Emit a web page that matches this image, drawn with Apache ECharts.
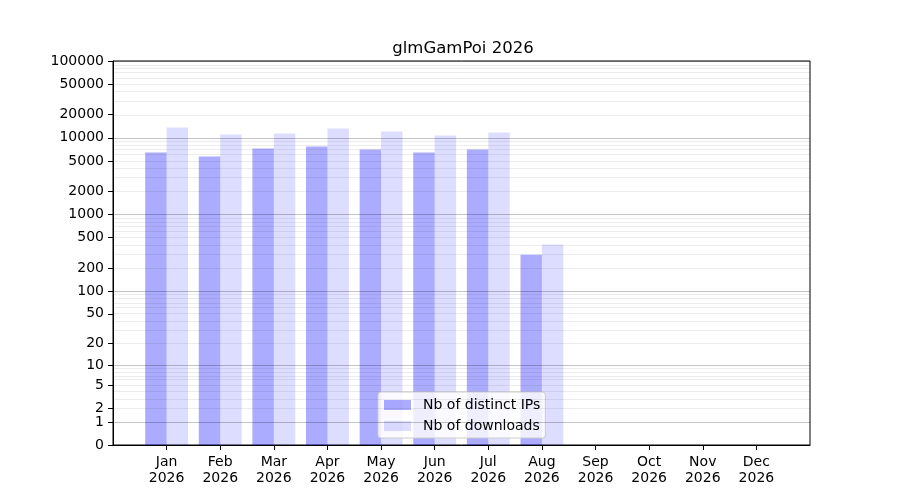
<!DOCTYPE html>
<html>
<head>
<meta charset="utf-8">
<script src="https://cdn.jsdelivr.net/npm/echarts@6/dist/echarts.min.js"></script>
<style>
  html, body { margin: 0; padding: 0; background: #fff; }
  #chart { width: 900px; height: 500px; }
</style>
</head>
<body>
<div id="chart"></div>
<script>
// values
const months = ['Jan', 'Feb', 'Mar', 'Apr', 'May', 'Jun', 'Jul', 'Aug', 'Sep', 'Oct', 'Nov', 'Dec'];
const year = '2026';
const distinctIPs = [6440, 5700, 7260, 7710, 7040, 6440, 7040, 300, 0, 0, 0, 0];
const downloads = [13630, 11050, 11390, 13230, 12090, 10720, 11730, 406, 0, 0, 0, 0];
const yTicks = [0, 1, 2, 5, 10, 20, 50, 100, 200, 500, 1000, 2000, 5000, 10000, 20000, 50000, 100000];
const majorGrid = [1, 10, 100, 1000, 10000, 100000];
const minorSteps = [2, 3, 4, 5, 6, 7, 8, 9];

// the y axis is log10(1 + v)
const tr = v => Math.log10(1 + v);
const untr = t => Math.round(Math.pow(10, t) - 1);

// one empty slot on each side, like the original xlim
const cats = [''].concat(months, ['']);
const pad = arr => [null].concat(arr.map(tr), [null]);

const minorGrid = [];
majorGrid.slice(0, -1).forEach(d => minorSteps.forEach(s => minorGrid.push(d * s)));

// translucent grid so it darkens the bars a little where it crosses them
const gridLines = majorGrid.map(v => ({ yAxis: tr(v), lineStyle: { color: 'rgba(0,0,0,0.23)', width: 1, type: 'solid' } }))
  .concat(minorGrid.map(v => ({ yAxis: tr(v), lineStyle: { color: 'rgba(0,0,0,0.075)', width: 1, type: 'solid' } })));

const font = 'DejaVu Sans';
const chart = echarts.init(document.getElementById('chart'));
chart.setOption({
  animation: false,
  textStyle: { fontFamily: font },
  title: {
    text: 'glmGamPoi ' + year,
    left: 458,
    top: 35,
    textAlign: 'center',
    textStyle: { fontFamily: font, fontSize: 16.5, fontWeight: 'normal', color: '#000' },
  },
  grid: {
    left: 113, right: 90, top: 61, bottom: 55,
    show: true, borderColor: '#000', borderWidth: 1,
  },
  legend: {
    orient: 'vertical',
    left: 378,
    top: 392,
    backgroundColor: 'rgba(255,255,255,0.8)',
    borderColor: '#cccccc',
    borderWidth: 1,
    borderRadius: 3,
    padding: [6, 5, 5, 6],
    itemWidth: 27,
    itemHeight: 10,
    itemGap: 7,
    icon: 'rect',
    textStyle: { fontFamily: font, fontSize: 14, color: '#000', padding: [0, 0, 0, 7] },
    data: ['Nb of distinct IPs', 'Nb of downloads'],
  },
  xAxis: {
    type: 'category',
    data: cats,
    boundaryGap: false,
    axisLine: { lineStyle: { color: '#000', width: 1 } },
    axisTick: { length: 5, lineStyle: { color: '#000' }, interval: (i, v) => v !== '' },
    axisLabel: {
      interval: 0,
      color: '#000',
      fontSize: 14,
      lineHeight: 16,
      margin: 9,
      formatter: v => (v === '' ? '' : v + '\n' + year),
    },
    splitLine: { show: false },
  },
  yAxis: {
    type: 'value',
    min: 0,
    max: tr(100000),
    axisLine: { show: true, lineStyle: { color: '#000', width: 1 } },
    axisTick: { show: true, length: 5, lineStyle: { color: '#000' }, customValues: yTicks.map(tr) },
    axisLabel: {
      color: '#000',
      fontSize: 14,
      margin: 9,
      customValues: yTicks.map(tr),
      formatter: t => String(untr(t)),
    },
    splitLine: { show: false },
  },
  series: [
    {
      type: 'bar',
      name: 'Nb of distinct IPs',
      data: pad(distinctIPs),
      barWidth: '40%',
      barGap: '0%',
      itemStyle: { color: 'rgba(0,0,255,0.33)' },
      markLine: {
        silent: true,
        symbol: 'none',
        label: { show: false },
        animation: false,
        data: gridLines,
      },
    },
    {
      type: 'bar',
      name: 'Nb of downloads',
      data: pad(downloads),
      barWidth: '40%',
      barGap: '0%',
      itemStyle: { color: 'rgba(0,0,255,0.135)' },
    },
  ],
});
</script>
</body>
</html>
